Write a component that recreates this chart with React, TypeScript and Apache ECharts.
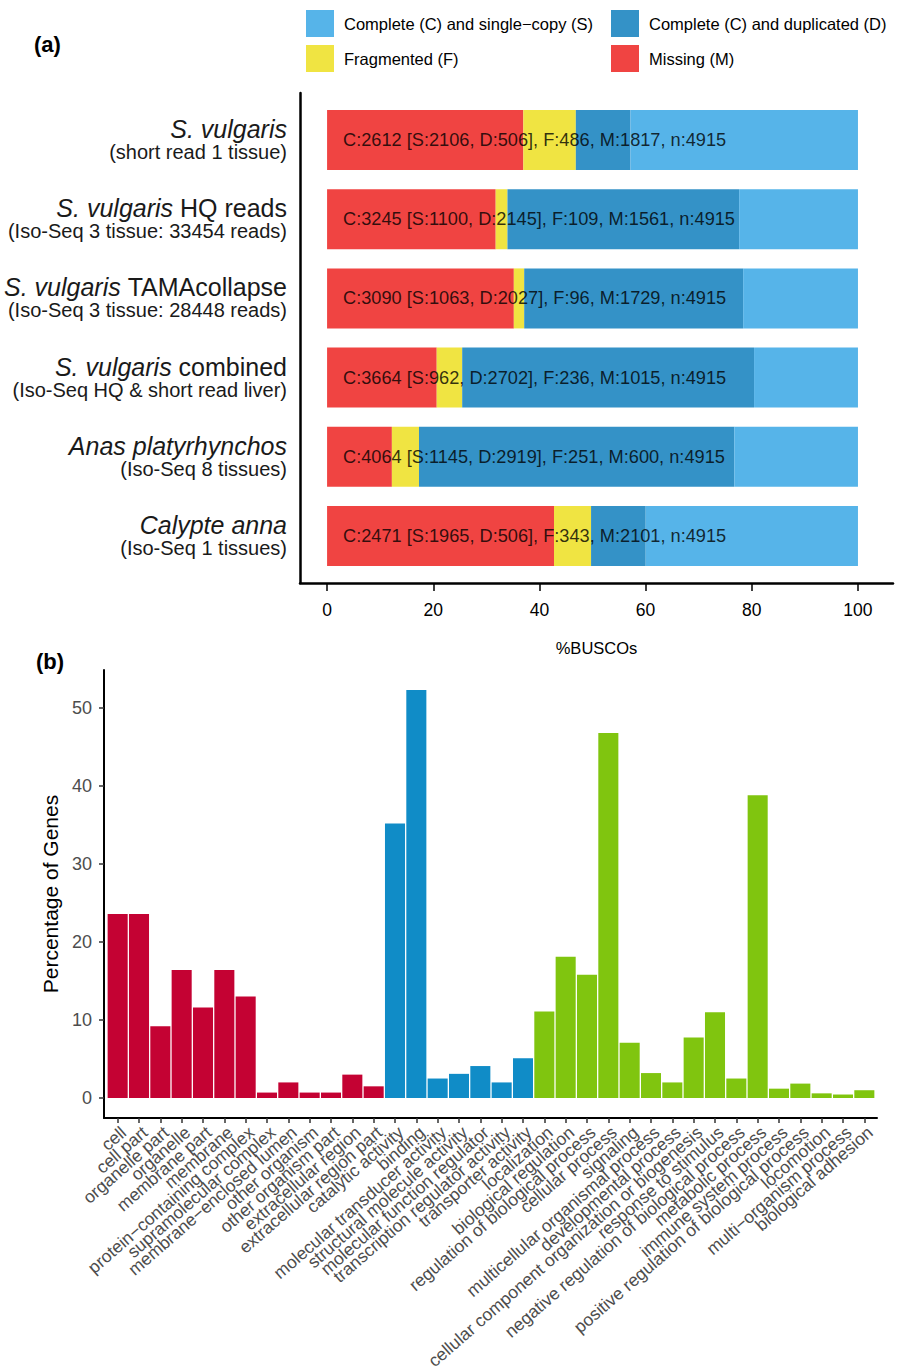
import React, { useEffect, useRef } from "react";
import * as echarts from "echarts";

// ---------- Panel (a): BUSCO ----------
const buscoSpecies = ["S. vulgaris", "S. vulgaris", "S. vulgaris", "S. vulgaris", "Anas platyrhynchos", "Calypte anna"];
const buscoSpeciesSuffix = ["", " HQ reads", " TAMAcollapse", " combined", "", ""];
const buscoSubtitle = [
  "(short read 1 tissue)",
  "(Iso-Seq 3 tissue: 33454 reads)",
  "(Iso-Seq 3 tissue: 28448 reads)",
  "(Iso-Seq HQ & short read liver)",
  "(Iso-Seq 8 tissues)",
  "(Iso-Seq 1 tissues)",
];
const buscoSingle = [2106, 1100, 1063, 962, 1145, 1965];
const buscoDuplicated = [506, 2145, 2027, 2702, 2919, 506];
const buscoFragmented = [486, 109, 96, 236, 251, 343];
const buscoMissing = [1817, 1561, 1729, 1015, 600, 2101];
const buscoTotal = [4915, 4915, 4915, 4915, 4915, 4915];
const buscoTicks = [0, 20, 40, 60, 80, 100];

// ---------- Panel (b): GO ----------
const goCellularComponent = [
  "cell", "cell part", "organelle part", "organelle", "membrane part", "membrane",
  "protein\u2212containing complex", "supramolecular complex", "membrane\u2212enclosed lumen",
  "other organism", "other organism part", "extracellular region", "extracellular region part",
];
const goCellularComponentValues = [23.6, 23.6, 9.2, 16.4, 11.6, 16.4, 13.0, 0.7, 2.0, 0.7, 0.7, 3.0, 1.5];
const goMolecularFunction = [
  "catalytic activity", "binding", "molecular transducer activity", "structural molecule activity",
  "molecular function regulator", "transcription regulator activity", "transporter activity",
];
const goMolecularFunctionValues = [35.2, 52.3, 2.5, 3.1, 4.1, 2.0, 5.1];
const goBiologicalProcess = [
  "localization", "biological regulation", "regulation of biological process", "cellular process",
  "signaling", "multicellular organismal process", "developmental process",
  "cellular component organization or biogenesis", "response to stimulus",
  "negative regulation of biological process", "metabolic process", "immune system process",
  "positive regulation of biological process", "locomotion", "multi\u2212organism process", "biological adhesion",
];
const goBiologicalProcessValues = [11.1, 18.1, 15.8, 46.8, 7.1, 3.2, 2.0, 7.75, 11.0, 2.5, 38.8, 1.2, 1.85, 0.6, 0.45, 1.0];
const goTicks = [0, 10, 20, 30, 40, 50];

const FONT = "'Liberation Sans', Arial, Helvetica, sans-serif";
const NAME_S = "Complete (C) and single\u2212copy (S)";
const NAME_D = "Complete (C) and duplicated (D)";
const NAME_F = "Fragmented (F)";
const NAME_M = "Missing (M)";
const C_S = "#56B4E9";
const C_D = "#3492C7";
const C_F = "#F0E442";
const C_M = "#F04442";
const C_CC = "#C40233";
const C_MF = "#108CC7";
const C_BP = "#80C50F";
const LABEL_X = 3;

export default function App() {
  const ref = useRef<HTMLDivElement>(null);
  useEffect(() => {
    document.body.style.margin = "0";
    const chart = echarts.init(ref.current!, null, { renderer: "svg" });
    const pct = (arr: number[]) => arr.map((v, i) => (v / buscoTotal[i]) * 100);
    const buscoCats = buscoSpecies.map((s, i) => s + buscoSpeciesSuffix[i]);
    const buscoLabels = buscoSingle.map(
      (s, i) =>
        `C:${s + buscoDuplicated[i]} [S:${s}, D:${buscoDuplicated[i]}], F:${buscoFragmented[i]}, M:${buscoMissing[i]}, n:${buscoTotal[i]}`
    );
    const goCats = [...goCellularComponent, ...goMolecularFunction, ...goBiologicalProcess];
    const goData = [
      ...goCellularComponentValues.map((v) => ({ value: v, itemStyle: { color: C_CC } })),
      ...goMolecularFunctionValues.map((v) => ({ value: v, itemStyle: { color: C_MF } })),
      ...goBiologicalProcessValues.map((v) => ({ value: v, itemStyle: { color: C_BP } })),
    ];

    const legendBase = {
      orient: "vertical",
      top: 10,
      padding: 0,
      itemWidth: 28,
      itemHeight: 27,
      itemGap: 8,
      icon: "rect",
      selectedMode: false,
      textStyle: { fontSize: 16.5, color: "#000", fontFamily: FONT, padding: [0, 0, 0, 5] },
    };
    const gridBase = { outerBoundsMode: "none", containLabel: false };

    const option: any = {
      animation: false,
      backgroundColor: "#fff",
      textStyle: { fontFamily: FONT },
      legend: [
        { ...legendBase, left: 306, data: [NAME_S, NAME_F] },
        { ...legendBase, left: 611, data: [NAME_D, NAME_M] },
      ],
      graphic: [
        {
          type: "text",
          x: 34,
          y: 44,
          style: { text: "(a)", fontSize: 22, fontWeight: "bold", fontFamily: FONT, fill: "#000", verticalAlign: "middle", textVerticalAlign: "middle" },
        },
        {
          type: "text",
          x: 36,
          y: 661,
          style: { text: "(b)", fontSize: 22, fontWeight: "bold", fontFamily: FONT, fill: "#000", verticalAlign: "middle", textVerticalAlign: "middle" },
        },
      ],
      grid: [
        { ...gridBase, left: 300, top: 100.5, width: 593, height: 475 },
        { ...gridBase, left: 300, top: 93, width: 593, height: 490 },
        { ...gridBase, left: 107, top: 670, width: 768, height: 448 },
        { ...gridBase, left: 104, top: 670, width: 773, height: 448 },
      ],
      xAxis: [
        { gridIndex: 0, type: "value", min: -5.1, max: 106.6, show: false },
        {
          gridIndex: 1,
          type: "value",
          min: -5.1,
          max: 106.6,
          axisLine: { show: true, onZero: false, lineStyle: { color: "#000", width: 2.5 } },
          axisTick: { show: true, customValues: buscoTicks, length: 8, lineStyle: { color: "#000", width: 1.5 } },
          axisLabel: { show: true, customValues: buscoTicks, color: "#000", fontSize: 17.5, margin: 18, fontFamily: FONT },
          splitLine: { show: false },
          name: "%BUSCOs",
          nameLocation: "middle",
          nameGap: 56,
          nameTextStyle: { fontSize: 16.5, color: "#000", fontFamily: FONT },
        },
        {
          gridIndex: 2,
          type: "category",
          data: goCats,
          axisLine: { show: false, onZero: false },
          axisTick: { show: true, alignWithLabel: true, interval: 0, length: 5, lineStyle: { color: "#333", width: 1.5 } },
          axisLabel: {
            interval: 0,
            rotate: 41,
            align: "right",
            verticalAlign: "top",
            margin: 5,
            fontSize: 17.5,
            color: "#4D4D4D",
            fontFamily: FONT,
          },
        },
        {
          gridIndex: 3,
          type: "value",
          min: 0,
          max: 1,
          axisLine: { show: true, onZero: false, lineStyle: { color: "#000", width: 2 } },
          axisTick: { show: false },
          axisLabel: { show: false },
          splitLine: { show: false },
        },
      ],
      yAxis: [
        {
          gridIndex: 0,
          type: "category",
          inverse: true,
          data: buscoCats,
          axisLine: { show: false },
          axisTick: { show: false },
          axisLabel: {
            margin: 13,
            formatter: (_v: string, i: number) => {
              const first = `{i|${buscoSpecies[i]}}` + (buscoSpeciesSuffix[i] ? `{n|${buscoSpeciesSuffix[i]}}` : "");
              return `${first}\n{s|${buscoSubtitle[i]}}`;
            },
            rich: {
              i: { fontStyle: "italic", fontSize: 25, lineHeight: 24, color: "#1a1a1a", align: "right", fontFamily: FONT },
              n: { fontSize: 25, lineHeight: 24, color: "#1a1a1a", align: "right", fontFamily: FONT },
              s: { fontSize: 20, lineHeight: 22, color: "#1a1a1a", align: "right", fontFamily: FONT },
            },
          },
        },
        {
          gridIndex: 1,
          type: "value",
          min: 0,
          max: 1,
          axisLine: { show: true, onZero: false, lineStyle: { color: "#000", width: 2.5 } },
          axisTick: { show: false },
          axisLabel: { show: false },
          splitLine: { show: false },
        },
        { gridIndex: 2, type: "value", min: -2.56, max: 54.87, show: false },
        {
          gridIndex: 3,
          type: "value",
          min: -2.56,
          max: 54.87,
          axisLine: { show: true, onZero: false, lineStyle: { color: "#000", width: 2 } },
          axisTick: { show: true, customValues: goTicks, length: 5, lineStyle: { color: "#333", width: 1.5 } },
          axisLabel: { show: true, customValues: goTicks, color: "#4D4D4D", fontSize: 18, margin: 12, fontFamily: FONT },
          splitLine: { show: false },
          name: "Percentage of Genes",
          nameLocation: "middle",
          nameRotate: 90,
          nameGap: 42,
          nameTextStyle: { fontSize: 21, color: "#000", fontFamily: FONT },
        },
      ],
      series: [
        { name: NAME_M, type: "bar", stack: "busco", xAxisIndex: 0, yAxisIndex: 0, barWidth: 60, itemStyle: { color: C_M }, data: pct(buscoMissing) },
        { name: NAME_F, type: "bar", stack: "busco", xAxisIndex: 0, yAxisIndex: 0, barWidth: 60, itemStyle: { color: C_F }, data: pct(buscoFragmented) },
        { name: NAME_D, type: "bar", stack: "busco", xAxisIndex: 0, yAxisIndex: 0, barWidth: 60, itemStyle: { color: C_D }, data: pct(buscoDuplicated) },
        { name: NAME_S, type: "bar", stack: "busco", xAxisIndex: 0, yAxisIndex: 0, barWidth: 60, itemStyle: { color: C_S }, data: pct(buscoSingle) },
        {
          type: "scatter",
          xAxisIndex: 0,
          yAxisIndex: 0,
          symbolSize: 0,
          silent: true,
          z: 5,
          data: buscoLabels.map((_, i) => [LABEL_X, i]),
          label: {
            show: true,
            position: "right",
            distance: 0,
            formatter: (p: any) => buscoLabels[p.dataIndex],
            fontSize: 18.2,
            color: "#000",
            fontFamily: FONT,
          },
        },
        {
          type: "bar",
          xAxisIndex: 2,
          yAxisIndex: 2,
          barCategoryGap: "6%",
          data: goData,
        },
      ],
    };
    chart.setOption(option);
    return () => chart.dispose();
  }, []);
  return <div ref={ref} style={{ width: 903, height: 1372 }} />;
}
